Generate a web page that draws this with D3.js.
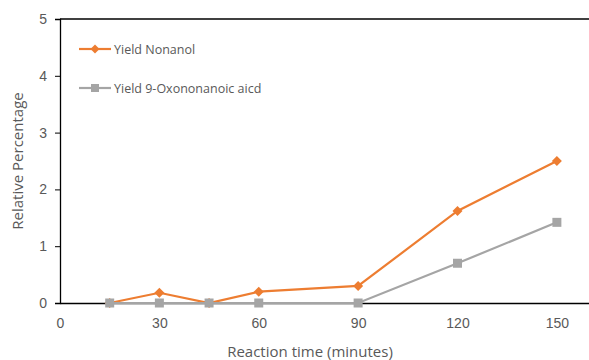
<!DOCTYPE html>
<html>
<head>
<meta charset="utf-8">
<script src="https://cdn.jsdelivr.net/npm/d3@7"></script>
<style>
  body { margin: 0; background: #fff; font-family: "Open Sans", "Liberation Sans", sans-serif; }
  .tick text { fill: #595959; font-size: 14px; }
</style>
</head>
<body>
<svg id="chart" width="589" height="360"></svg>
<script>
var times = [15, 30, 45, 60, 90, 120, 150];
var nonanol = [0, 0.18, 0, 0.2, 0.3, 1.62, 2.5];
var oxo = [0, 0, 0, 0, 0, 0.7, 1.42];
var xTicks = [0, 30, 60, 90, 120, 150];
var yTicks = [0, 1, 2, 3, 4, 5];
var seriesNames = ['Yield Nonanol', 'Yield 9-Oxononanoic aicd'];

var svg = d3.select('#chart');
var x = d3.scaleLinear().domain([0, 160]).range([60, 590]);
var y = d3.scaleLinear().domain([0, 5]).range([303, 19]);

function diamond(r) { return 'M0,' + (-r) + 'L' + r + ',0L0,' + r + 'L' + (-r) + ',0Z'; }
function square(r) { return 'M' + (-r) + ',' + (-r) + 'h' + 2 * r + 'v' + 2 * r + 'h' + (-2 * r) + 'Z'; }

svg.append('line')
   .attr('x1', x(0)).attr('x2', 589)
   .attr('y1', y(5)).attr('y2', y(5))
   .attr('stroke', '#000').attr('stroke-width', 1.3);

var yAxis = svg.append('g').attr('transform', 'translate(' + x(0) + ',0)')
   .call(d3.axisLeft(y).tickValues(yTicks).tickFormat(d3.format('d')).tickSize(5).tickPadding(8));
yAxis.select('.domain').attr('stroke', '#000').attr('stroke-width', 1.3);
yAxis.selectAll('.tick line').attr('stroke', '#000');

var xAxis = svg.append('g').attr('transform', 'translate(0,' + y(0) + ')')
   .call(d3.axisBottom(x).tickValues(xTicks).tickFormat(d3.format('d')).tickSize(0).tickPadding(15));
xAxis.select('.domain').attr('stroke', '#000').attr('stroke-width', 1.3);

var series = [
  {name: seriesNames[0], values: nonanol, color: '#ED7D31', shape: diamond, r: 5},
  {name: seriesNames[1], values: oxo, color: '#A5A5A5', shape: square, r: 4.5}
];

var line = d3.line()
   .x(function(d) { return x(d[0]); })
   .y(function(d) { return y(d[1]); });

series.forEach(function(s) {
  var pts = times.map(function(t, i) { return [t, s.values[i]]; });
  svg.append('path').datum(pts)
     .attr('fill', 'none').attr('stroke', s.color).attr('stroke-width', 2.2)
     .attr('d', line);
  svg.selectAll(null).data(pts).enter().append('path')
     .attr('transform', function(d) { return 'translate(' + x(d[0]) + ',' + y(d[1]) + ')'; })
     .attr('d', s.shape(s.r))
     .attr('fill', s.color);
});

// legend
series.forEach(function(s, i) {
  var ly = 49 + i * 39;
  var g = svg.append('g');
  g.append('line').attr('x1', 79).attr('x2', 111).attr('y1', ly).attr('y2', ly)
   .attr('stroke', s.color).attr('stroke-width', 2.2);
  g.append('path').attr('transform', 'translate(95,' + ly + ')')
   .attr('d', s.shape(s.r - 0.5))
   .attr('fill', s.color);
  g.append('text').attr('x', 114).attr('y', ly + 4.5)
   .attr('fill', '#595959').style('font-size', '12.5px').text(s.name);
});

svg.append('text')
   .attr('transform', 'translate(23,161) rotate(-90)')
   .attr('text-anchor', 'middle').attr('fill', '#595959').style('font-size', '15px')
   .text('Relative Percentage');

svg.append('text')
   .attr('x', 310).attr('y', 357)
   .attr('text-anchor', 'middle').attr('fill', '#595959').style('font-size', '15px')
   .text('Reaction time (minutes)');
</script>
</body>
</html>
